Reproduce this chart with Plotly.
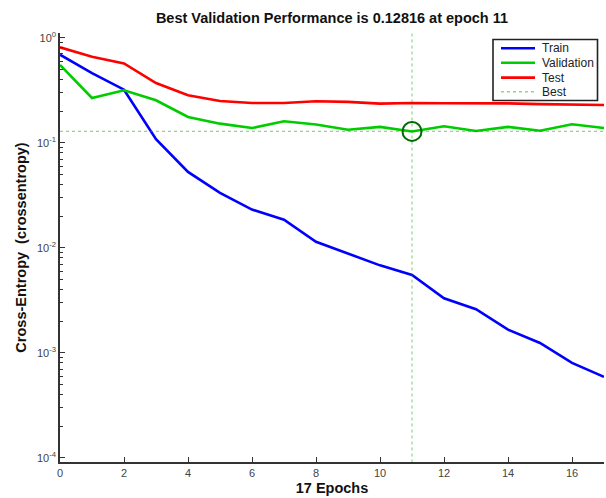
import plotly.graph_objects as go

epochs = list(range(18))
train = [0.69, 0.46, 0.32, 0.108, 0.0527, 0.0333, 0.0231, 0.0185, 0.0114, 0.0088,
         0.0068, 0.0055, 0.0033, 0.0026, 0.00166, 0.00124, 0.00080, 0.00059]
validation = [0.55, 0.267, 0.316, 0.254, 0.176, 0.152, 0.138, 0.160, 0.149, 0.133,
              0.1415, 0.12816, 0.1436, 0.1295, 0.1415, 0.1300, 0.150, 0.138]
test = [0.81, 0.66, 0.57, 0.37, 0.283, 0.25, 0.239, 0.239, 0.248, 0.245,
        0.236, 0.239, 0.238, 0.238, 0.237, 0.233, 0.230, 0.229]
best_epoch = 11
best_value = 0.12816
series_names = ["Train", "Validation", "Test", "Best"]
x_ticks = [0, 2, 4, 6, 8, 10, 12, 14, 16]
y_tickvals = [1e-4, 1e-3, 1e-2, 1e-1, 1e0]
y_ticktext = ["10<sup>-4</sup>", "10<sup>-3</sup>", "10<sup>-2</sup>", "10<sup>-1</sup>", "10<sup>0</sup>"]
minor_vals = [m * 10 ** e for e in range(-4, 0) for m in range(2, 10)]

font = "Liberation Sans, Arial, sans-serif"
W, H = 606, 498
L, R, T, B = 60, 2, 33, 36
PW, PH = W - L - R, H - T - B

colors = ["rgb(0,0,255)", "rgb(0,204,0)", "rgb(255,0,0)"]
best_color = "rgba(0,170,0,0.45)"

fig = go.Figure()
for name, ys, c in zip(series_names[:3], [train, validation, test], colors):
    fig.add_trace(go.Scatter(x=epochs, y=ys, mode="lines", name=name, showlegend=False,
                             line=dict(color=c, width=2.6)))
fig.add_trace(go.Scatter(x=[epochs[0], epochs[-1]], y=[best_value, best_value], mode="lines",
                         name="Best", showlegend=False,
                         line=dict(color=best_color, width=1.2, dash="dot")))
fig.add_trace(go.Scatter(x=[best_epoch, best_epoch], y=[1e-4 * 0.9, 1.2], mode="lines",
                         showlegend=False, line=dict(color=best_color, width=1.2, dash="dot")))
fig.add_trace(go.Scatter(x=[best_epoch], y=[best_value], mode="markers", showlegend=False,
                         marker=dict(symbol="circle-open", size=19, color="rgb(0,105,0)",
                                     line=dict(color="rgb(0,105,0)", width=2))))

# legend box (drawn in paper coordinates to match the compact MATLAB legend)
def px(fx):
    return (fx - L) / PW

def py(fy):
    return (H - B - fy) / PH

shapes = [dict(type="rect", xref="paper", yref="paper", x0=px(493), x1=px(597.5),
               y0=py(100.5), y1=py(39.5), line=dict(color="#222", width=1.6),
               fillcolor="white", layer="above")]
annotations = []
row_y = [48.3, 62.8, 77.6, 91.7]
legend_styles = [dict(color=colors[0], width=2.6), dict(color=colors[1], width=2.6),
                 dict(color=colors[2], width=2.6), dict(color=best_color, width=1.4, dash="dot")]
for name, ry, st in zip(series_names, row_y, legend_styles):
    shapes.append(dict(type="line", xref="paper", yref="paper", x0=px(501), x1=px(535),
                       y0=py(ry), y1=py(ry), line=st, layer="above"))
    annotations.append(dict(text=name, xref="paper", yref="paper", x=px(540), y=py(ry),
                            xanchor="left", yanchor="middle", showarrow=False,
                            font=dict(family=font, size=12, color="#222")))

fig.update_layout(
    width=W, height=H,
    margin=dict(l=L, r=R, t=T, b=B, autoexpand=False),
    paper_bgcolor="white", plot_bgcolor="white",
    font=dict(family=font, size=11, color="#444"),
    title=dict(text="<b>Best Validation Performance is 0.12816 at epoch 11</b>",
               x=(L + W - R) / 2 / W, xanchor="center", y=1 - 18 / H, yanchor="middle",
               font=dict(family=font, size=14.5, color="#111")),
    showlegend=False,
    hovermode=False,
    shapes=shapes,
    annotations=annotations,
)
fig.update_xaxes(range=[0, 17], tickvals=x_ticks, ticks="inside", ticklen=5, tickwidth=1.2,
                 tickcolor="#333", showline=True, linecolor="#333", linewidth=1.5,
                 showgrid=False, zeroline=False, automargin=False,
                 title=dict(text="<b>17 Epochs</b>", standoff=5,
                            font=dict(family=font, size=14.5, color="#111")))
fig.update_yaxes(type="log", range=[-4.04, 0.045], tickvals=y_tickvals, ticktext=y_ticktext,
                 ticks="inside", ticklen=5, tickwidth=1.2, tickcolor="#333",
                 showline=True, linecolor="#333", linewidth=1.5, showgrid=False, zeroline=False,
                 automargin=False,
                 minor=dict(tickvals=minor_vals, ticks="inside", ticklen=3, tickwidth=1,
                            tickcolor="#333", showgrid=False),
                 title=dict(text="<b>Cross-Entropy  (crossentropy)</b>", standoff=7,
                            font=dict(family=font, size=14.5, color="#111")))

fig.write_html("out.html", config={"displayModeBar": False},
               post_script="document.body.style.margin='0px';document.body.style.overflow='hidden';")
